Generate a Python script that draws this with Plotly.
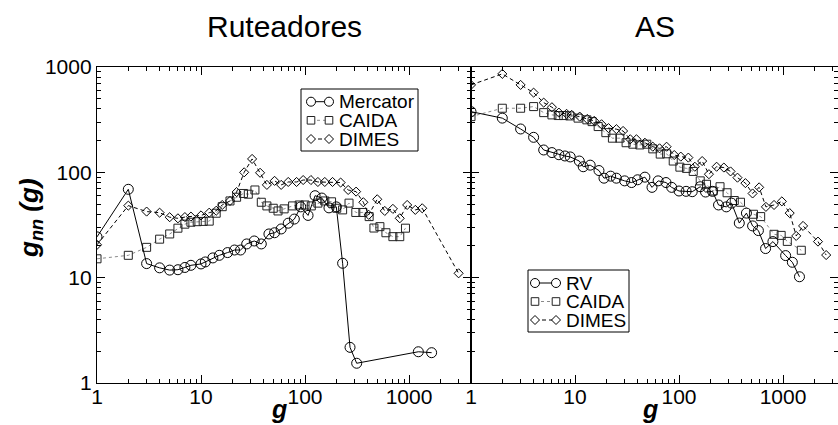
import numpy as np
import plotly.graph_objects as go

# ---------------- data: average neighbour degree g_nn(g) vs degree g ----------------
# Router-level maps
rut_merc_g = [1, 2, 3, 4, 5, 6, 7, 8, 10, 11, 13, 15, 18, 21, 24, 27.5, 32.5, 38, 45, 51,
              59, 69, 79, 91, 107, 125, 145, 170, 200, 230, 271, 314, 1230, 1650]
rut_merc_v = [24.4, 69, 13.6, 12.4, 11.8, 11.9, 12.5, 13.1, 13.5, 14.1, 15.4, 16.3, 17.3, 18.3,
              18.3, 20.9, 22.3, 20.9, 26, 26.7, 29, 32.9, 36, 47, 39, 60, 57, 46, 47, 13.7,
              2.18, 1.54, 1.98, 1.94]

rut_caida_g = [1, 2, 3, 4, 5, 6, 7, 8, 9.2, 10.5, 12, 14, 16, 19, 22, 25.6, 28.5, 33, 38, 43,
               49.5, 55, 63, 76, 88, 100, 115, 133, 155, 180, 202, 230, 265, 308, 360, 414,
               460, 525, 600, 700, 815, 925]
rut_caida_v = [15.1, 16.3, 19.4, 23.2, 26, 29.5, 32.2, 33.6, 34, 34.2, 34.4, 40.9, 47.2, 53.5,
               58, 63, 62, 68, 52, 48, 45.6, 43, 45, 48, 49, 49, 48, 51, 53.5, 52.5, 45.6, 44,
               51, 41.6, 41.6, 38, 29.6, 30.5, 26.7, 24.5, 24.5, 29.5]

rut_dimes_g = [1, 2, 3, 4, 5, 6, 7, 8, 10, 12, 14, 16, 19, 22, 26, 31, 37, 43, 51, 59, 69, 83,
               96, 114, 133, 155, 184, 220, 260, 310, 364, 410, 495, 585, 700, 815, 960, 1150,
               1340, 3000]
rut_dimes_v = [20.5, 48.3, 42.4, 41.4, 37.5, 36.6, 37.6, 38, 39, 41.4, 43.2, 49, 53.5, 65, 100,
               134, 99, 76, 83, 76, 81, 81, 84.5, 84.5, 81, 81, 81, 80, 68, 65.6, 52, 39.5,
               55.5, 43, 45, 36.6, 49, 44, 45.6, 11]

# AS-level maps
as_rv_g = [1, 2, 3, 4, 5, 6, 7, 8, 9, 11, 12, 14, 17, 19, 22, 25, 30, 35, 40, 47, 55, 63, 75,
           85, 100, 117, 134, 160, 180, 210, 240, 285, 320, 380, 445, 510, 580, 680, 800,
           1060, 1230, 1440]
as_rv_v = [377, 327, 258, 215, 163, 154, 147, 143, 140, 128, 113, 117, 104, 88, 92, 88, 83, 80,
           85, 90, 72, 83, 80, 72, 66.5, 66, 65.5, 73, 65, 66, 49, 47, 51, 33, 41, 31, 28,
           18.9, 22, 16.2, 14, 10.2]

as_caida_g = [1, 2, 3, 4, 5, 6, 6.9, 7.8, 8.9, 10.7, 13, 14.6, 16.7, 19.8, 22.9, 27, 31, 36,
              42, 49, 56, 66, 76, 88, 102, 118, 137, 160, 184, 213, 248, 290, 340, 390, 520,
              610, 820, 960, 1100, 1500]
as_caida_v = [338, 406, 406, 421, 369, 351, 346, 346, 343, 327, 315, 303, 272, 238, 211, 211,
              191, 185, 182, 185, 167, 149, 150, 128, 112, 109, 102, 83, 77, 66.5, 73, 64, 54,
              52, 40, 38, 25.8, 25.2, 22.1, 18.2]

as_dimes_g = [1, 2, 3, 4, 5, 6, 7, 8.3, 9.3, 11.1, 13.1, 15.3, 18, 21, 25, 29, 34, 39, 47, 56,
              65, 76, 90, 104, 123, 142, 167, 194, 230, 270, 313, 365, 435, 510, 590, 685, 820,
              975, 1160, 1340, 1560, 2170, 2600]
as_dimes_v = [676, 860, 676, 571, 459, 415, 369, 359, 351, 338, 321, 308, 286, 263, 257, 247,
              206, 206, 191, 175, 169, 175, 146, 141, 138, 113, 128, 96, 113, 111, 102, 89, 79,
              63, 72, 47, 49, 53, 41, 24.9, 31, 22, 16.4]

panel_titles = ["Ruteadores", "AS"]
legend_left = ["Mercator", "CAIDA", "DIMES"]
legend_right = ["RV", "CAIDA", "DIMES"]
tick_vals = [1, 10, 100, 1000]
tick_text = ["1", "10", "100", "1000"]

# ---------------- figure geometry (pixels) ----------------
W, H = 838, 425
X0, XM, X1 = 97, 471, 838       # left edge, panel split, right edge
Y_TOP, Y_BOT = 67, 383          # plot top / bottom
DEC = 104.0                     # pixels per decade on x


def fx(p):
    return p / W


def fy(p):
    return 1 - p / H


FONT = "Liberation Sans, Arial, sans-serif"

styles = {
    "circ": dict(symbol="circle-open", size=10, color="black", line=dict(width=1)),
    "sq": dict(symbol="square-open", size=8, color="#222", line=dict(width=1)),
    "dia": dict(symbol="diamond-open", size=7, color="black", line=dict(width=1)),
}
lines = {
    "circ": dict(color="black", width=1),
    "sq": dict(color="#8a8a8a", width=1, dash="dot"),
    "dia": dict(color="black", width=1, dash="4px,3px"),
}

fig = go.Figure()


def add(g, v, kind, name, xa, ya):
    fig.add_trace(go.Scatter(
        x=g, y=v, mode="lines+markers", name=name, showlegend=False,
        marker=styles[kind], line=lines[kind], xaxis=xa, yaxis=ya, cliponaxis=True))


add(rut_caida_g, rut_caida_v, "sq", "CAIDA", "x", "y")
add(rut_dimes_g, rut_dimes_v, "dia", "DIMES", "x", "y")
add(rut_merc_g, rut_merc_v, "circ", "Mercator", "x", "y")
add(as_caida_g, as_caida_v, "sq", "CAIDA", "x2", "y2")
add(as_dimes_g, as_dimes_v, "dia", "DIMES", "x2", "y2")
add(as_rv_g, as_rv_v, "circ", "RV", "x2", "y2")

minor_vals = [m * 10 ** e for e in range(0, 4) for m in range(2, 10)]
minor = dict(ticks="inside", ticklen=4, tickwidth=1, tickcolor="black", tickvals=minor_vals,
             showgrid=False)

axis_common = dict(type="log", showline=True, linecolor="black", linewidth=1.4,
                   mirror="ticks", ticks="inside", ticklen=8, tickwidth=1, tickcolor="black",
                   showgrid=False, zeroline=False, tickvals=tick_vals, ticktext=tick_text,
                   tickfont=dict(family=FONT, size=21, color="black"), minor=minor,
                   automargin=False)

fig.update_layout(
    width=W, height=H, margin=dict(l=0, r=0, t=0, b=0, autoexpand=False),
    paper_bgcolor="white", plot_bgcolor="white",
    font=dict(family=FONT, color="black"),
    xaxis=dict(axis_common, domain=[fx(X0), fx(XM)], range=[0, (XM - X0) / DEC], anchor="y",
               ticklabelstandoff=-5),
    yaxis=dict(axis_common, domain=[fy(Y_BOT), fy(Y_TOP)], range=[0, 3], anchor="x"),
    xaxis2=dict(axis_common, domain=[fx(XM), fx(X1)], range=[0, (X1 - XM) / DEC], anchor="y2",
                ticklabelstandoff=-5),
    yaxis2=dict(axis_common, domain=[fy(Y_BOT), fy(Y_TOP)], range=[0, 3], anchor="x2",
                showticklabels=False),
)

ann = []
# panel titles
for txt, cx in zip(panel_titles, [(X0 + XM) / 2, (XM + X1) / 2]):
    ann.append(dict(text=txt, x=fx(cx), y=fy(27), xref="paper", yref="paper",
                    xanchor="center", yanchor="middle", showarrow=False,
                    font=dict(family=FONT, size=30, color="black")))
# axis titles, resting on the bottom edge of the figure
for cx in [(X0 + XM) / 2, (XM + X1) / 2]:
    ann.append(dict(text="<b><i>g</i></b>", x=fx(cx - 5), y=0, xref="paper", yref="paper",
                    xanchor="center", yanchor="bottom", showarrow=False,
                    font=dict(family=FONT, size=25, color="black")))
ann.append(dict(text="<b><i>g<sub>nn</sub> (g)</i></b>", x=fx(30), y=fy(218), xref="paper",
                yref="paper", xanchor="center", yanchor="middle", showarrow=False,
                textangle=-90, font=dict(family=FONT, size=26, color="black")))

shapes = []


def key_symbol(kind, cx, cy):
    if kind == "circ":
        r = 4.5
        return dict(type="circle", xref="paper", yref="paper", x0=fx(cx - r), x1=fx(cx + r),
                    y0=fy(cy + r), y1=fy(cy - r), line=dict(color="black", width=1),
                    fillcolor="white")
    if kind == "sq":
        r = 3.8
        return dict(type="rect", xref="paper", yref="paper", x0=fx(cx - r), x1=fx(cx + r),
                    y0=fy(cy + r), y1=fy(cy - r), line=dict(color="#222", width=1),
                    fillcolor="white")
    r = 4.5
    path = "M {} {} L {} {} L {} {} L {} {} Z".format(
        fx(cx - r), fy(cy), fx(cx), fy(cy - r), fx(cx + r), fy(cy), fx(cx), fy(cy + r))
    return dict(type="path", xref="paper", yref="paper", path=path,
                line=dict(color="black", width=1), fillcolor="white")


def draw_legend(labels, box, rows, kx0, kx1, tx):
    bx0, by0, bx1, by1 = box
    shapes.append(dict(type="rect", xref="paper", yref="paper", x0=fx(bx0), x1=fx(bx1),
                       y0=fy(by1), y1=fy(by0), line=dict(color="black", width=1),
                       fillcolor="white", layer="above"))
    for label, kind, ry in zip(labels, ["circ", "sq", "dia"], rows):
        ln = lines[kind]
        shapes.append(dict(type="line", xref="paper", yref="paper", x0=fx(kx0), x1=fx(kx1),
                           y0=fy(ry), y1=fy(ry),
                           line=dict(color=ln["color"], width=1, dash=ln.get("dash", "solid"))))
        shapes.append(key_symbol(kind, kx0, ry))
        shapes.append(key_symbol(kind, kx1, ry))
        ann.append(dict(text=label, x=fx(tx), y=fy(ry), xref="paper", yref="paper",
                        xanchor="left", yanchor="middle", showarrow=False,
                        font=dict(family=FONT, size=19, color="black")))


draw_legend(legend_left, (301, 89, 418, 151), [101.7, 120.3, 139], 311, 329, 337)
draw_legend(legend_right, (528, 270, 629, 332), [283, 301.5, 320], 535, 556, 564)

fig.update_layout(annotations=ann, shapes=shapes)

fig.write_html("out.html")
